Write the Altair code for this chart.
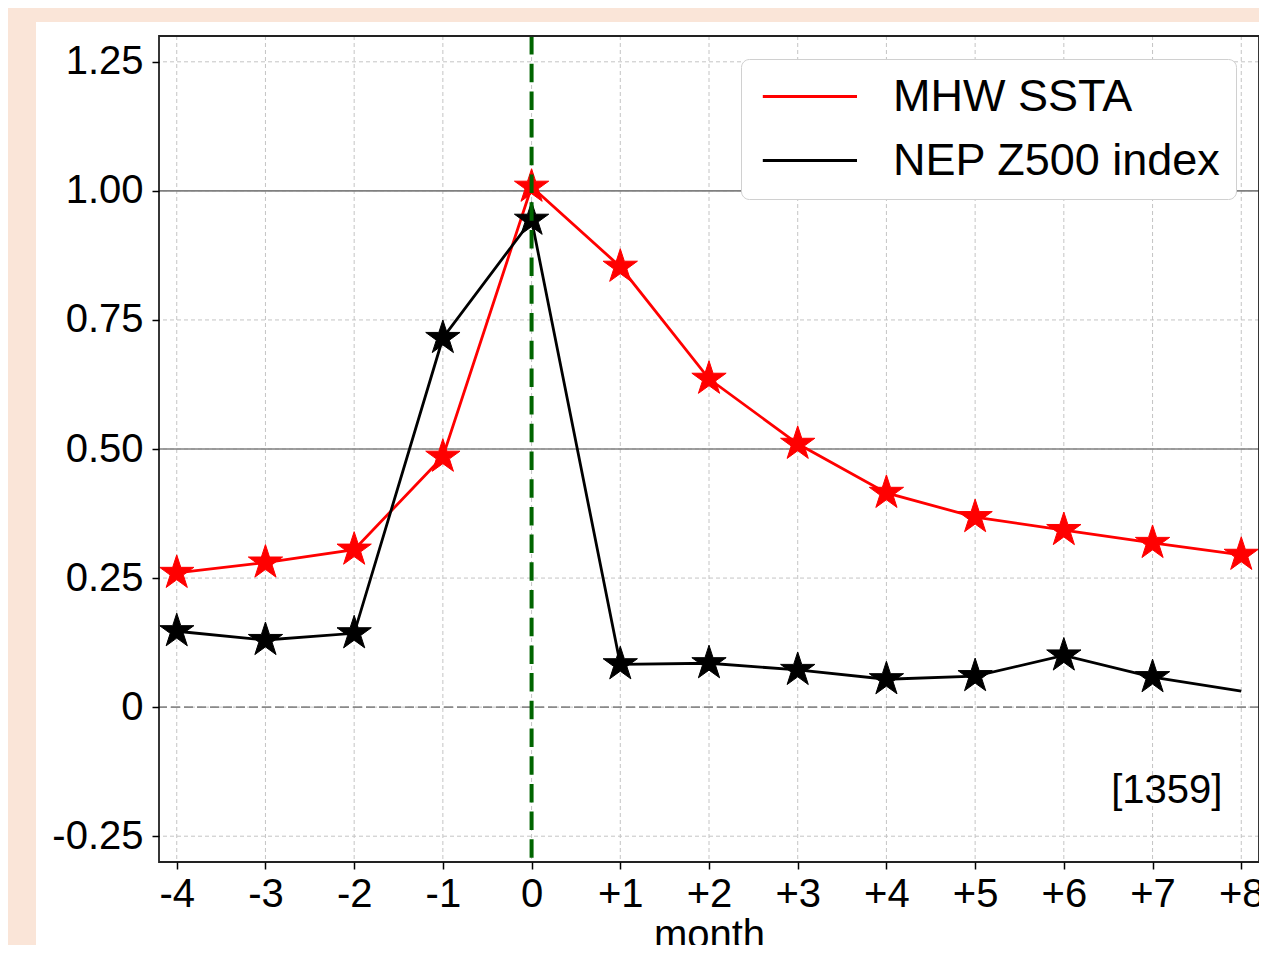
import altair as alt
import pandas as pd
import numpy as np

# ---------------- data ----------------
months = [-4, -3, -2, -1, 0, 1, 2, 3, 4, 5, 6, 7, 8]
mhw_ssta = [0.26, 0.28, 0.305, 0.485, 1.008, 0.853, 0.636, 0.51, 0.415, 0.368, 0.343, 0.318, 0.295]
nep_z500 = [0.147, 0.13, 0.143, 0.715, 0.944, 0.083, 0.085, 0.072, 0.054, 0.06, 0.10, 0.058, 0.031]
mhw_marked = [True] * 13
z500_marked = [True] * 12 + [False]
series_names = ["MHW SSTA", "NEP Z500 index"]
series_colors = ["#ff0000", "#000000"]
x_ticks = [-4, -3, -2, -1, 0, 1, 2, 3, 4, 5, 6, 7, 8]
y_ticks = [-0.25, 0, 0.25, 0.5, 0.75, 1.0, 1.25]
ref_solid = [0.5, 1.0]
ref_dashed = [0]
event_month = [0]
count_label = ["[1359]"]
count_pos_x = [7.16]
count_pos_y = [-0.186]

# ---------------- build tables ----------------
df = pd.DataFrame({
    "month": months * 2,
    "value": mhw_ssta + nep_z500,
    "series": [series_names[0]] * 13 + [series_names[1]] * 13,
    "marked": mhw_marked + z500_marked,
})

W, H = 1100, 826
PAD_L, PAD_T = 151, 28
PAD_B = 937 - PAD_T - H
FONT = "Liberation Sans"

xscale = alt.Scale(domain=[-4.2, 8.2], nice=False, zero=False)
yscale = alt.Scale(domain=[-0.30, 1.30], nice=False, zero=False)
cscale = alt.Scale(domain=series_names, range=series_colors)

# star marker path
pts = []
for k in range(10):
    a = np.deg2rad(-90 + 36 * k)
    r = 1.0 if k % 2 == 0 else 0.382
    pts.append(f"{r * np.cos(a):.4f},{r * np.sin(a):.4f}")
star = "M" + "L".join(pts) + "Z"

xaxis = alt.Axis(values=x_ticks,
                 labelExpr="datum.value > 0 ? '+' + datum.value : '' + datum.value",
                 title="month", titleFontSize=40, titleFont=FONT, titleFontWeight="normal",
                 titleColor="black", titlePadding=1,
                 labelFontSize=40, labelFont=FONT, labelColor="black", labelPadding=5,
                 labelOverlap=False, labelFlush=False, labelBound=False,
                 grid=False, domain=False, tickSize=7, tickWidth=1.5, tickColor="black",
                 zindex=1)
yaxis = alt.Axis(values=y_ticks,
                 labelExpr="datum.value == 0 ? '0' : (datum.value < 0 ? '-' + format(-datum.value, '.2f') : format(datum.value, '.2f'))",
                 title=None,
                 labelFontSize=40, labelFont=FONT, labelColor="black", labelPadding=9,
                 labelOverlap=False, labelFlush=False, labelBound=False,
                 grid=False, domain=False, tickSize=7, tickWidth=1.5, tickColor="black",
                 zindex=1)

one = pd.DataFrame({"a": [0]})

bg = alt.Chart(one).mark_rect(color="white").encode(
    x=alt.value(-123), x2=alt.value(W + 20),
    y=alt.value(-14), y2=alt.value(H + 140),
)

gridx = alt.Chart(pd.DataFrame({"t": x_ticks})).mark_rule(
    color="#c4c4c4", strokeDash=[4, 3], strokeWidth=1
).encode(x=alt.X("t:Q", scale=xscale, axis=xaxis))

gridy = alt.Chart(pd.DataFrame({"t": y_ticks})).mark_rule(
    color="#c4c4c4", strokeDash=[4, 3], strokeWidth=1
).encode(y=alt.Y("t:Q", scale=yscale, axis=yaxis))

solid = alt.Chart(pd.DataFrame({"t": ref_solid})).mark_rule(
    color="#808080", strokeWidth=1.6
).encode(y=alt.Y("t:Q", scale=yscale))

dashed = alt.Chart(pd.DataFrame({"t": ref_dashed})).mark_rule(
    color="#8a8a8a", strokeWidth=1.6, strokeDash=[9, 4]
).encode(y=alt.Y("t:Q", scale=yscale))

legend = alt.Legend(title=None, orient="top-right", offset=23,
                    symbolType="M-1,0H5", symbolSize=986, symbolStrokeWidth=3,
                    labelFontSize=45, labelFont=FONT, labelColor="black", labelLimit=0,
                    labelOffset=92, fillColor="white", strokeColor="#d0d0d0",
                    cornerRadius=8, padding=15, rowPadding=18, zindex=1)

lines = alt.Chart(df).mark_line(strokeWidth=2.8).encode(
    x=alt.X("month:Q", scale=xscale, axis=xaxis),
    y=alt.Y("value:Q", scale=yscale, axis=yaxis),
    color=alt.Color("series:N", scale=cscale, legend=legend),
    detail="series:N",
)

points = alt.Chart(df).transform_filter("datum.marked").mark_point(
    shape=star, filled=True, size=1300, strokeWidth=1, opacity=1
).encode(
    x=alt.X("month:Q", scale=xscale),
    y=alt.Y("value:Q", scale=yscale),
    color=alt.Color("series:N", scale=cscale, legend=legend),
    stroke=alt.Stroke("series:N", scale=cscale, legend=None),
)

green = alt.Chart(pd.DataFrame({"t": event_month})).mark_rule(
    color="#006400", strokeWidth=4, strokeDash=[18.5, 9.2]
).encode(x=alt.X("t:Q", scale=xscale))

txt = alt.Chart(pd.DataFrame({"lab": count_label, "x": count_pos_x, "y": count_pos_y})).mark_text(
    fontSize=40, font=FONT, color="black", align="center", baseline="alphabetic"
).encode(
    x=alt.X("x:Q", scale=xscale),
    y=alt.Y("y:Q", scale=yscale),
    text="lab:N",
)

frame = alt.Chart(one).mark_rect(fill=None, fillOpacity=0, stroke="#222222", strokeWidth=1.8).encode(
    x=alt.value(0), x2=alt.value(W), y=alt.value(0), y2=alt.value(H),
)

chart = alt.layer(bg, gridx, gridy, solid, dashed, lines, points, green, txt, frame).properties(
    width=W, height=H,
    autosize=alt.AutoSizeParams(type="none"),
    padding={"left": PAD_L, "top": PAD_T, "right": 0, "bottom": PAD_B},
    background="#fae5d8",
).configure_view(stroke=None)

chart.save("out.html", embed_options={"renderer": "svg", "actions": False})
